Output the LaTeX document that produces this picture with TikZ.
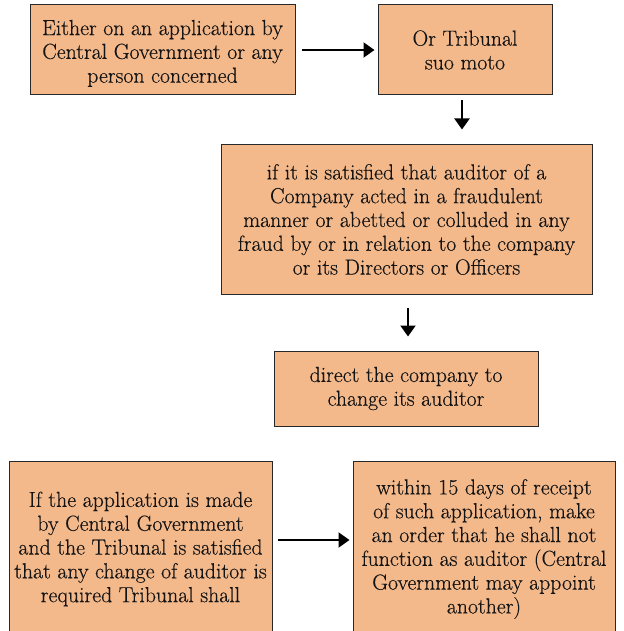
\documentclass[tikz,border=0pt]{standalone}
\usepackage{fontspec}
\setmainfont{Latin Modern Roman}[FakeBold=0.35]
\usetikzlibrary{arrows.meta}
\definecolor{boxfill}{RGB}{244,185,139}
\definecolor{boxline}{RGB}{40,40,40}
\definecolor{txt}{RGB}{20,20,20}
\begin{document}
\begin{tikzpicture}[x=1pt,y=-1pt,
  box/.style={draw=boxline, line width=1pt, fill=boxfill, text=txt, align=center,
    inner sep=0pt, font=\fontsize{21.8}{23.8}\selectfont},
  arr/.style={line width=2pt, -{Triangle[length=11pt,width=15pt]}}]
\clip (0,0) rectangle (623,631);
\useasboundingbox (0,0) rectangle (623,631);
\node[box, minimum width=265pt, minimum height=90pt] (b1) at (162.5,50)
  {\rule{0pt}{22pt}Either on an application by\\Central Government or any\\person concerned};
\node[box, minimum width=174pt, minimum height=90pt] (b2) at (465,50)
  {Or Tribunal\\suo moto};
\node[box, minimum width=371pt, minimum height=149pt] (b3) at (406.5,219.5)
  {if it is satisfied that auditor of a\\Company acted in a fraudulent\\manner or abetted or colluded in any\\fraud by or in relation to the company\\or its Directors or Officers};
\node[box, minimum width=264pt, minimum height=75pt] (b4) at (406,388.5)
  {direct the company to\\change its auditor};
\node[box, minimum width=263pt, minimum height=176pt] (b5) at (140.5,549)
  {If the application is made\\by Central Government\\and the Tribunal is satisfied\\that any change of auditor is\\required Tribunal shall};
\node[box, minimum width=262pt, minimum height=176pt] (b6) at (484,549)
  {within 15 days of receipt\\of such application, make\\an order that he shall not\\function as auditor (Central\\Government may appoint\\another)};
\draw[arr, shorten <=6pt, shorten >=3pt] (b1.east) -- (b2.west);
\draw[arr, shorten <=5pt, shorten >=15pt] ([xshift=-3pt]b2.south) -- ([xshift=-3pt]b2.south |- b3.north);
\draw[arr, shorten <=13pt, shorten >=14pt] ([xshift=1.5pt]b3.south) -- ([xshift=1.5pt]b3.south |- b4.north);
\draw[arr, shorten <=5pt, shorten >=3pt] ([yshift=9pt]b5.east) -- ([yshift=9pt]b5.east -| b6.west);
\end{tikzpicture}
\end{document}
